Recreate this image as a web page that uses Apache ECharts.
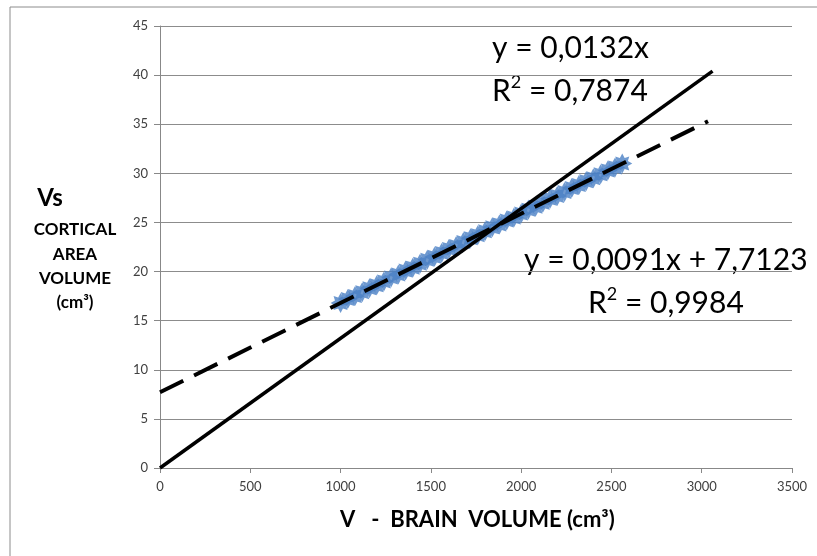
<!DOCTYPE html>
<html lang="en">
<head>
    <meta charset="UTF-8">
    <title>Vs vs V</title>
    <script src="https://cdn.jsdelivr.net/npm/echarts@6/dist/echarts.min.js"></script>
    <style>
        html, body { margin: 0; padding: 0; background: #fff; }
    </style>
</head>
<body>

<div id="main" style="width: 817px;height:556px;"></div>

<script type="text/javascript">
    // brain volume V (cm3) -> cortical area volume Vs (cm3)
    var brainVolume = [1000, 1040, 1080, 1120, 1160, 1200, 1240, 1280, 1320, 1360,
        1400, 1440, 1480, 1520, 1560, 1600, 1640, 1680, 1720, 1760,
        1800, 1840, 1880, 1920, 1960, 2000, 2040, 2080, 2120, 2160,
        2200, 2240, 2280, 2320, 2360, 2400, 2440, 2480, 2520, 2560];
    var corticalVolume = [16.8, 17.2, 17.5, 17.9, 18.3, 18.6, 19.0, 19.4, 19.7, 20.1,
        20.4, 20.8, 21.2, 21.5, 21.9, 22.3, 22.6, 23.0, 23.4, 23.7,
        24.1, 24.5, 24.8, 25.2, 25.5, 25.9, 26.3, 26.6, 27.0, 27.4,
        27.7, 28.1, 28.5, 28.8, 29.2, 29.5, 29.9, 30.3, 30.6, 31.0];

    // trend lines: through origin (solid) and linear (dashed)
    var trendOrigin = [[0, 0], [3060, 40.4]];
    var trendLinear = [[0, 7.71], [3035, 35.3]];

    var xTicks = [0, 500, 1000, 1500, 2000, 2500, 3000, 3500];
    var yTicks = [0, 5, 10, 15, 20, 25, 30, 35, 40, 45];

    var yTitleLines = ['CORTICAL', 'AREA', 'VOLUME', '(cm³)'];

    var points = brainVolume.map(function (v, i) {
        return [v, corticalVolume[i]];
    });

    var myChart = echarts.init(document.getElementById('main'));

    var axisText = { color: '#404040', fontSize: 13, fontFamily: 'Lato' };

    // fat 8-point star, like the spreadsheet marker
    var starPath = 'path://M50,0 L62,22 L85,15 L78,38 L100,50 L78,62 L85,85 L62,78 L50,100 L38,78 L15,85 L22,62 L0,50 L22,38 L15,15 L38,22 Z';

    var eqStyle = {
        a: { fontSize: 30, fontFamily: 'Lato', color: '#000', lineHeight: 36 },
        s: { fontSize: 18, fontFamily: 'Lato', color: '#000', verticalAlign: 'top', lineHeight: 36 }
    };

    var graphics = [
        {
            type: 'rect',
            shape: { x: 10, y: 7, width: 900, height: 600 },
            style: { fill: 'none', stroke: '#8c8c8c', lineWidth: 1 },
            silent: true, z: -1
        },
        {
            type: 'text', left: 492, top: 33,
            style: { text: '{a|y = 0,0132x}', rich: eqStyle }
        },
        {
            type: 'text', left: 492, top: 73,
            style: { text: '{a|R}{s|2}{a| = 0,7874}', rich: eqStyle }
        },
        {
            type: 'text', left: 524, top: 245,
            style: { text: '{a|y = 0,0091x + 7,7123}', rich: eqStyle }
        },
        {
            type: 'text', left: 588, top: 285,
            style: { text: '{a|R}{s|2}{a| = 0,9984}', rich: eqStyle }
        },
        {
            type: 'text',
            style: {
                x: 50, y: 198, text: 'Vs', font: 'bold 24px Lato', fill: '#000',
                textAlign: 'center', textVerticalAlign: 'middle'
            }
        },
        {
            type: 'text', left: 340, top: 509,
            style: { text: 'V   -  BRAIN  VOLUME (cm³)', font: 'bold 22px Lato', fill: '#000' }
        }
    ];

    yTitleLines.forEach(function (line, i) {
        graphics.push({
            type: 'text',
            style: {
                x: 75, y: 230 + i * 24.3, text: line, font: 'bold 17px Lato', fill: '#000',
                textAlign: 'center', textVerticalAlign: 'middle'
            }
        });
    });

    var option = {
        animation: false,
        backgroundColor: '#fff',
        grid: { left: 160, right: 25, top: 26, bottom: 88 },
        xAxis: {
            type: 'value',
            min: xTicks[0],
            max: xTicks[xTicks.length - 1],
            interval: 500,
            axisLine: { show: true, lineStyle: { color: '#888', width: 1 } },
            axisTick: { show: true, length: 5, lineStyle: { color: '#888' } },
            axisLabel: Object.assign({
                margin: 12,
                formatter: function (v) { return String(v); }
            }, axisText),
            splitLine: { show: false }
        },
        yAxis: {
            type: 'value',
            min: yTicks[0],
            max: yTicks[yTicks.length - 1],
            interval: 5,
            axisLine: { show: true, lineStyle: { color: '#888', width: 1 } },
            axisTick: { show: true, length: 6, lineStyle: { color: '#888' } },
            axisLabel: Object.assign({ margin: 12 }, axisText),
            splitLine: { show: true, lineStyle: { color: '#8c8c8c', width: 1 } }
        },
        series: [{
            name: 'data',
            type: 'scatter',
            data: points,
            symbol: starPath,
            symbolSize: 20,
            itemStyle: { color: '#4a80c4' },
            z: 2
        }, {
            name: 'trend origin',
            type: 'line',
            data: trendOrigin,
            symbol: 'none',
            lineStyle: { color: '#000', width: 3.5 },
            z: 3
        }, {
            name: 'trend linear',
            type: 'line',
            data: trendLinear,
            symbol: 'none',
            lineStyle: { color: '#000', width: 4, type: [26, 12] },
            z: 3
        }],
        graphic: graphics
    };

    myChart.setOption(option);
</script>
</body>
</html>
